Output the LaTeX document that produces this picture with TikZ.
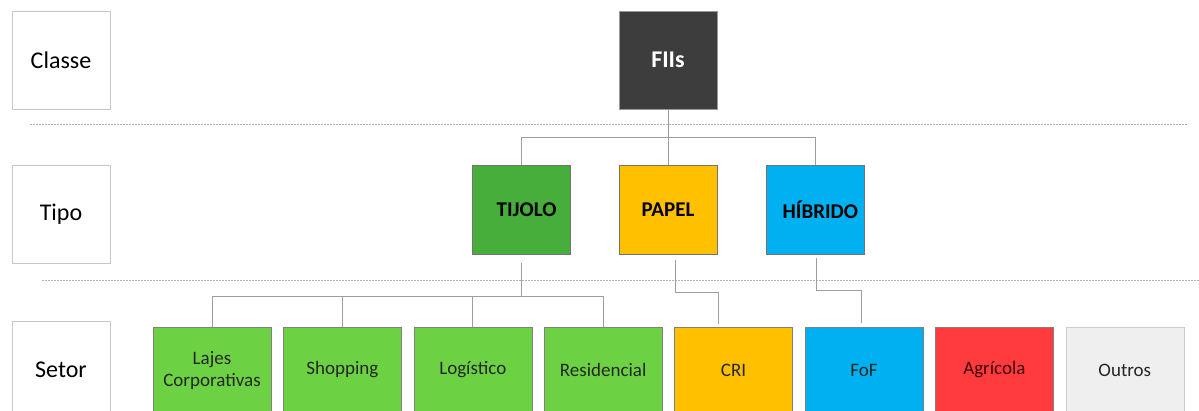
\documentclass[tikz,border=0pt]{standalone}
\usepackage{fontspec}
\setmainfont{Carlito}
\usetikzlibrary{positioning}

\definecolor{fiigray}{HTML}{3D3D3D}
\definecolor{tijologreen}{HTML}{47AD3B}
\definecolor{setorgreen}{HTML}{6CD243}
\definecolor{papelyellow}{HTML}{FFC000}
\definecolor{hibridoblue}{HTML}{00B0F0}
\definecolor{agrored}{HTML}{FF3B3D}
\definecolor{outrosgray}{HTML}{EFEFEF}

\tikzset{
	rowlabel/.style={draw=black!22, fill=white, minimum width=98pt, minimum height=98pt, font=\fontsize{24}{28}\selectfont},
	fiibox/.style={draw=black!40, fill=fiigray, text=white, minimum width=98pt, minimum height=98pt, font=\bfseries\fontsize{24}{28}\selectfont},
	tipobox/.style={draw=black!55, minimum width=98pt, minimum height=89pt, font=\bfseries\fontsize{21}{25}\selectfont},
	setorbox/.style={draw=black!50, minimum width=118pt, minimum height=86pt, align=center, text=black!85, font=\fontsize{19}{22}\selectfont},
	link/.style={draw=black!38, line width=1pt},
	levelsep/.style={draw=black!30, line width=0.6pt, dash pattern=on 2pt off 1pt}
}

\begin{document}
\begin{tikzpicture}[x=1pt, y=-1pt]
	\useasboundingbox (0,0) rectangle (1199,411);

	%% row labels
	\node[rowlabel](classe) at (61,60){Classe};
	\node[rowlabel, below=56pt of classe](tipo){Tipo};
	\node[rowlabel, below=57pt of tipo](setor){Setor};

	\draw[levelsep] (30,124) -- (1188,124);
	\draw[levelsep] (42,280) -- (1199,280);

	%% CLASSE
	\node[fiibox](fii) at (668,60){FIIs};

	%% TIPO
	\node[tipobox, fill=papelyellow](papel) at (668,209.5){PAPEL};
	\node[tipobox, fill=tijologreen, left=48pt of papel](tijolo){\hspace*{10pt}TIJOLO};
	\node[tipobox, fill=hibridoblue, right=49pt of papel](hibrido){\hspace*{10pt}HÍBRIDO};

	\draw[link] (fii.south) -- (papel.north);
	\draw[link] (fii.south) -- ++(0,28) -| (tijolo.north);
	\draw[link] (fii.south) -- ++(0,28) -| (hibrido.north);

	%% SETOR
	\node[setorbox, fill=setorgreen](lajes) at (212,370){Lajes\\Corporativas};
	\node[setorbox, fill=setorgreen, right=12pt of lajes](shopping){Shopping};
	\node[setorbox, fill=setorgreen, right=12pt of shopping](logistico){Logístico};
	\node[setorbox, fill=setorgreen, right=12pt of logistico](residencial){Residencial};
	\node[setorbox, fill=papelyellow, right=12pt of residencial](cri){CRI};
	\node[setorbox, fill=hibridoblue, right=12pt of cri](fof){FoF};
	\node[setorbox, fill=agrored, text=black!75!red, right=12pt of fof](agricola){Agrícola};
	\node[setorbox, fill=outrosgray, draw=black!20, right=12pt of agricola](outros){Outros};

	\foreach \s in {lajes, shopping, logistico, residencial}
		\draw[link, shorten <=9pt] (tijolo.south) -- ++(0,42) -| (\s.north);

	\draw[link, shorten <=6pt, shorten >=3pt] ([xshift=7pt]papel.south) -- ++(0,38) -| ([xshift=-15pt]cri.north);
	\draw[link, shorten <=4pt, shorten >=4pt] ([xshift=1pt]hibrido.south) -- ++(0,36) -| ([xshift=-3pt]fof.north);

\end{tikzpicture}
\end{document}
